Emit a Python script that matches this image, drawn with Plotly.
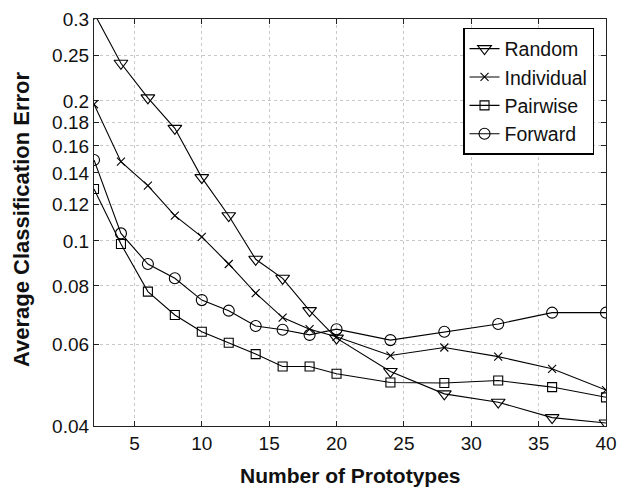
import math
import plotly.graph_objects as go

x_vals = [2, 4, 6, 8, 10, 12, 14, 16, 18, 20, 24, 28, 32, 36, 40]
random_err = [0.309, 0.241, 0.203, 0.1746, 0.1368, 0.1133, 0.0913, 0.0831, 0.0708, 0.0618, 0.0524, 0.0469, 0.0450, 0.0417, 0.0406]
individual_err = [0.1967, 0.148, 0.1315, 0.1133, 0.102, 0.0892, 0.0772, 0.0684, 0.0646, 0.0622, 0.0567, 0.0590, 0.0564, 0.0531, 0.0478]
pairwise_err = [0.1293, 0.0985, 0.0778, 0.0693, 0.0638, 0.0604, 0.0571, 0.0537, 0.0537, 0.0518, 0.0496, 0.0495, 0.0501, 0.0485, 0.0461]
forward_err = [0.1493, 0.1038, 0.0892, 0.0831, 0.0746, 0.0708, 0.0656, 0.0644, 0.0628, 0.0646, 0.0612, 0.0638, 0.0663, 0.0701, 0.0701]

x_ticks = [5, 10, 15, 20, 25, 30, 35, 40]
y_ticks = [0.04, 0.06, 0.08, 0.1, 0.12, 0.14, 0.16, 0.18, 0.2, 0.25, 0.3]
y_tick_text = ["0.04", "0.06", "0.08", "0.1", "0.12", "0.14", "0.16", "0.18", "0.2", "0.25", "0.3"]

FONT = "Liberation Sans, Arial, Helvetica, sans-serif"

series = [
    ("Random", random_err, "triangle-down-open", 12),
    ("Individual", individual_err, "x-thin-open", 8),
    ("Pairwise", pairwise_err, "square-open", 9),
    ("Forward", forward_err, "circle-open", 11),
]

fig = go.Figure()
for name, ys, sym, sz in series:
    fig.add_trace(go.Scatter(
        x=x_vals, y=ys, name=name, mode="lines+markers",
        line=dict(color="black", width=1.1),
        marker=dict(symbol=sym, size=sz, color="black", line=dict(color="black", width=1.1)),
        cliponaxis=True,
    ))

axis_common = dict(
    showline=True, linecolor="#222", linewidth=1.2, mirror="allticks",
    ticks="inside", ticklen=5, tickcolor="#222", tickwidth=1,
    showgrid=True, gridcolor="#c8c8c8", griddash="dot", gridwidth=1,
    zeroline=False, tickfont=dict(family=FONT, size=19, color="#111"),
    automargin=False,
)

fig.update_xaxes(
    range=[2, 40], tickvals=x_ticks, ticktext=[str(v) for v in x_ticks],
    **axis_common,
)
fig.update_yaxes(
    type="log", range=[math.log10(0.04), math.log10(0.3)],
    tickvals=y_ticks, ticktext=y_tick_text,
    **axis_common,
)

fig.add_annotation(
    text="<b>Average Classification Error</b>", textangle=-90,
    xref="paper", yref="paper", x=-0.1406, y=0.5086,
    xanchor="center", yanchor="middle", showarrow=False,
    font=dict(family=FONT, size=22, color="#111"),
)
fig.add_annotation(
    text="<b>Number of Prototypes</b>",
    xref="paper", yref="paper", x=0.5, y=-0.122,
    xanchor="center", yanchor="middle", showarrow=False,
    font=dict(family=FONT, size=21, color="#111"),
)

fig.update_layout(
    width=617, height=488,
    margin=dict(l=94, r=11, t=19, b=62),
    paper_bgcolor="white", plot_bgcolor="white",
    font=dict(family=FONT, size=19, color="#111"),
    legend=dict(
        x=0.9766, y=0.978, xanchor="right", yanchor="top",
        bgcolor="white", bordercolor="black", borderwidth=1.5,
        font=dict(family=FONT, size=19.5, color="#111"),
        itemwidth=30, tracegroupgap=0,
    ),
    showlegend=True,
)

fig.write_html(
    "out.html",
    config={"displayModeBar": False},
    post_script="document.body.style.margin='0';document.body.style.padding='0';document.documentElement.style.overflow='hidden';",
)
